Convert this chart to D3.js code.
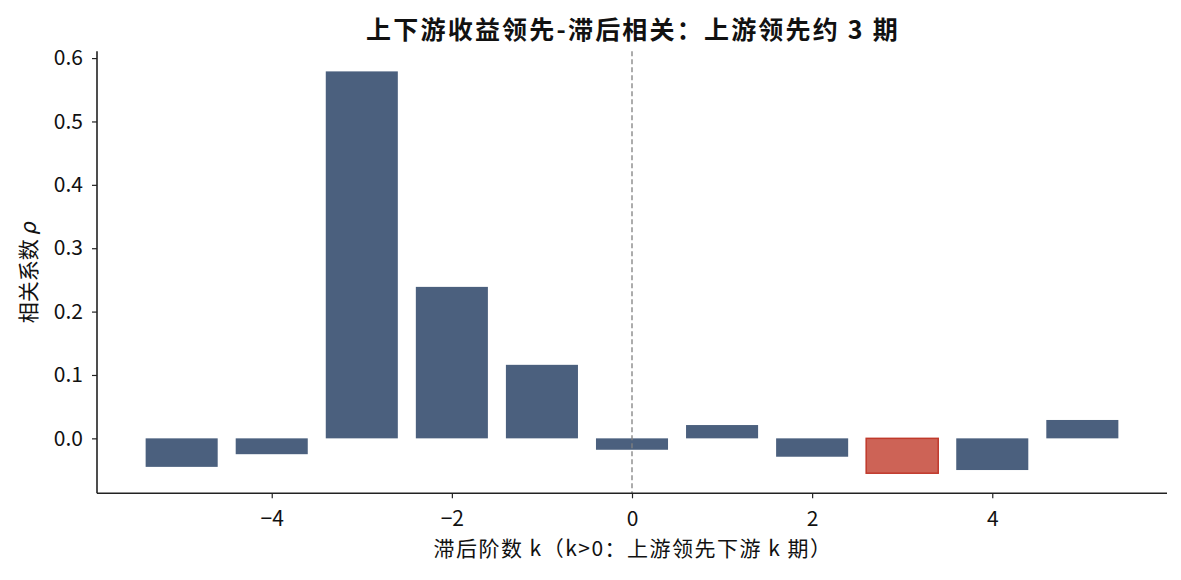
<!DOCTYPE html>
<html>
<head>
<meta charset="utf-8">
<style>
body { margin: 0; background: #fff; }
text { font-family: "Noto Sans CJK SC", "Noto Sans", sans-serif; }
</style>
</head>
<body></body>
<script src="https://cdn.jsdelivr.net/npm/d3@7"></script>
<script>

// lag k and correlation
var lags = [-5, -4, -3, -2, -1, 0, 1, 2, 3, 4, 5];
var rho = [-0.045, -0.025, 0.579, 0.239, 0.116, -0.018, 0.021, -0.029, -0.055, -0.050, 0.029];
var bestLag = 3;
var xTicks = [-4, -2, 0, 2, 4];
var yTicks = [0.0, 0.1, 0.2, 0.3, 0.4, 0.5, 0.6];

var W = 1181, H = 580;
var margin = {top: 51.3, right: 14, bottom: 86.7, left: 97};
var width = W - margin.left - margin.right,
    height = H - margin.top - margin.bottom;

var svg = d3.select("body").append("svg")
	.attr("width", W)
	.attr("height", H);

var g = svg.append("g")
	.attr("transform", "translate(" + margin.left + "," + margin.top + ")");

var xScale = d3.scaleLinear()
	.domain([-5.94, 5.94])
	.range([0, width]);

var yScale = d3.scaleLinear()
	.domain([-0.0867, 0.6107])
	.range([height, 0]);

var barW = xScale(0.8) - xScale(0);

// bars
g.selectAll("rect.bar")
	.data(lags)
  .enter().append("rect")
	.attr("class", "bar")
	.attr("x", d => xScale(d) - barW / 2)
	.attr("width", barW)
	.attr("y", (d, i) => yScale(Math.max(0, rho[i])))
	.attr("height", (d, i) => Math.abs(yScale(rho[i]) - yScale(0)))
	.attr("fill", d => d === bestLag ? "#cd6356" : "#4b607e")
	.attr("stroke", d => d === bestLag ? "#c0392b" : "none")
	.attr("stroke-width", 1.5);

// zero lag dashed line
g.append("line")
	.attr("x1", xScale(0)).attr("x2", xScale(0))
	.attr("y1", 0).attr("y2", height)
	.attr("stroke", "#808080")
	.attr("stroke-width", 1.3)
	.attr("stroke-dasharray", "5,3");

// axes
var xAxis = g.append("g")
	.attr("transform", "translate(0," + height + ")")
	.call(d3.axisBottom(xScale).tickValues(xTicks).tickSize(5).tickPadding(13)
		.tickFormat(d => d < 0 ? "\u2212" + Math.abs(d) : d));

var yAxis = g.append("g")
	.call(d3.axisLeft(yScale).tickValues(yTicks).tickSize(5).tickPadding(9)
		.tickFormat(d3.format(".1f")));

[xAxis, yAxis].forEach(a => {
	a.select(".domain").attr("stroke", "#222").attr("stroke-width", 1.6);
	a.selectAll(".tick line").attr("stroke", "#222").attr("stroke-width", 1.2);
	a.selectAll(".tick text").attr("fill", "#111").attr("font-size", 21)
		.style("font-family", "'Noto Sans CJK SC', sans-serif");
});
xAxis.select(".domain").attr("d", "M0,0H" + width);
yAxis.select(".domain").attr("d", "M0,0V" + height);

// title
svg.append("text")
	.attr("x", margin.left + width / 2 + 1)
	.attr("y", 39)
	.attr("text-anchor", "middle")
	.attr("font-size", 25)
	.attr("font-weight", "bold")
	.attr("letter-spacing", 2.2)
	.attr("fill", "#111")
	.text("上下游收益领先-滞后相关：上游领先约 3 期");

// x label
svg.append("text")
	.attr("x", margin.left + width / 2 + 1)
	.attr("y", 556)
	.attr("text-anchor", "middle")
	.attr("font-size", 21)
	.attr("letter-spacing", 1.5)
	.attr("fill", "#111")
	.text("滞后阶数 k（k>0：上游领先下游 k 期）");

// y label
svg.append("text")
	.attr("transform", "translate(36," + (margin.top + height / 2) + ") rotate(-90)")
	.attr("text-anchor", "middle")
	.attr("font-size", 21)
	.attr("fill", "#111")
	.text("相关系数 ")
  .append("tspan")
	.attr("font-style", "italic")
	.style("font-family", "'DejaVu Sans', sans-serif")
	.text("ρ");

</script>
</html>
